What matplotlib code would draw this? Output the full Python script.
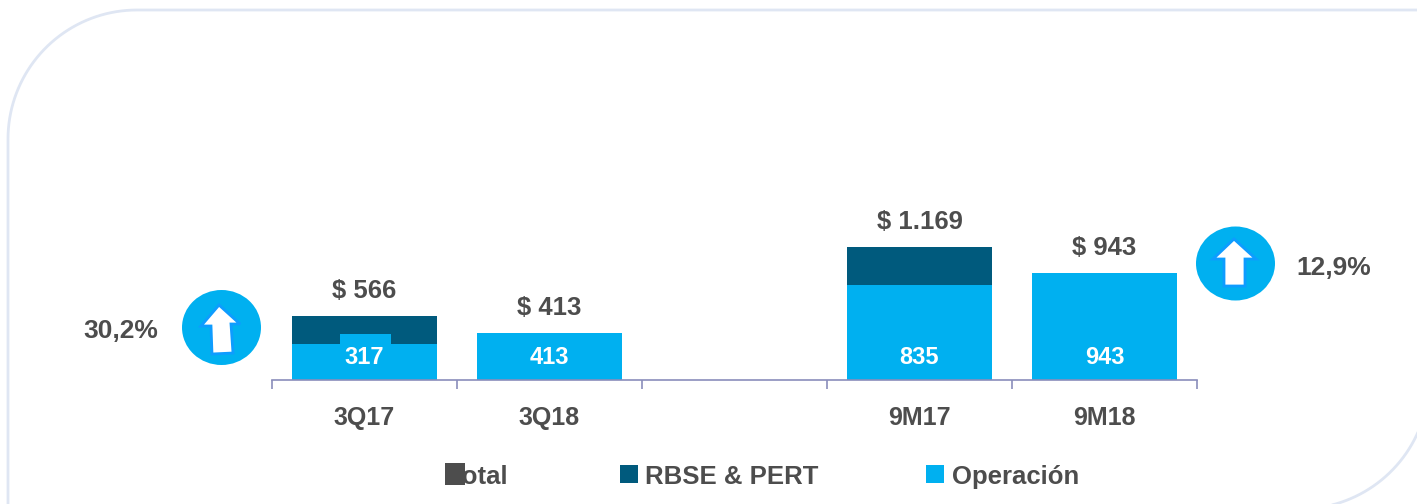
import numpy as np
import matplotlib
matplotlib.use('Agg')
import matplotlib.pyplot as plt
from matplotlib.patches import Rectangle, Ellipse, Polygon
from matplotlib.transforms import Affine2D

W, H = 1417, 504

categories = ['3Q17', '3Q18', '', '9M17', '9M18']
operacion = [317, 413, 0, 835, 943]
rbse_pert = [249, 0, 0, 334, 0]
total_labels = ['$ 566', '$ 413', '', '$ 1.169', '$ 943']
operacion_labels = ['317', '413', '', '835', '943']
totals = [566, 413, 0, 1169, 943]
legend_names = ['Total', 'RBSE & PERT', 'Operación']

BLUE = '#00B0F0'
NAVY = '#005A7D'
GREY = '#4D4D4D'
AXIS = '#8A8DBB'
FRAME = '#DFE6F3'

plt.rcParams['font.family'] = ['Liberation Sans', 'DejaVu Sans']
plt.rcParams['font.weight'] = 'bold'

fig = plt.figure(figsize=(W / 100, H / 100), dpi=100)
# everything decorative is placed in picture pixels, y going down
to_px = Affine2D().scale(1 / W, -1 / H).translate(0, 1) + fig.transFigure

# frame: only top left and bottom right are rounded, it runs off the picture
l, t, r, b, R = 8, 10, 1429, 509, 129
a1 = np.radians(np.linspace(180, 270, 40))
a2 = np.radians(np.linspace(0, 90, 40))
frame_pts = list(zip(l + R + R * np.cos(a1), t + R + R * np.sin(a1)))
frame_pts.append((r, t))
frame_pts += list(zip(r - R + R * np.cos(a2), b - R + R * np.sin(a2)))
frame_pts.append((l, b))
fig.add_artist(Polygon(frame_pts, closed=True, fc='none', ec=FRAME, lw=2.0, transform=to_px))

ax = fig.add_axes([272 / W, 1 - 380 / H, (1197 - 272) / W, 320 / H])
ax.patch.set_alpha(0)
x = range(len(categories))
ax.bar(x, operacion, width=0.78, color=BLUE)
ax.bar(x, rbse_pert, width=0.78, bottom=operacion, color=NAVY)
ax.set_xlim(-0.5, 4.5)
ax.set_ylim(0, 2819)
ax.set_yticks([])
for s in ['top', 'left', 'right']:
    ax.spines[s].set_visible(False)
ax.spines['bottom'].set_color(AXIS)
ax.spines['bottom'].set_linewidth(1.2)
ax.set_xticks([i - 0.5 for i in range(len(categories) + 1)])
ax.set_xticklabels([])
ax.tick_params(axis='x', which='major', length=6.5, width=1.2, color=AXIS)
ax.set_xticks(list(x), minor=True)
ax.set_xticklabels(categories, minor=True, fontsize=18, color=GREY, fontweight='bold')
ax.tick_params(axis='x', which='minor', length=0, pad=19)

# patch behind the 317 label
ax.add_patch(Rectangle((340, 334), 51, 14, fc=BLUE, ec='none', transform=to_px, zorder=4, clip_on=False))

for i in x:
    if not categories[i]:
        continue
    ax.annotate(total_labels[i], (i, totals[i]), xytext=(0, 18), textcoords='offset points',
                ha='center', va='center', fontsize=18.5, color=GREY, fontweight='bold')
    ax.annotate(operacion_labels[i], (i, 0), xytext=(0, 16.5), textcoords='offset points',
                ha='center', va='center', fontsize=17, color='white', fontweight='bold', zorder=10)
ax.set_zorder(5)

# growth badges
for (cx, cy, w, h) in [(221.5, 327.5, 79, 75), (1235.5, 263.5, 79, 74)]:
    fig.add_artist(Ellipse((cx, cy), w, h, fc=BLUE, ec='none', transform=to_px))
arrow_l = [(219, 305), (240, 324), (231, 324), (233, 353), (212, 354), (211, 326), (201, 326)]
arrow_r = [(1234, 239), (1256, 259), (1245, 259), (1245, 286), (1224, 286), (1224, 259), (1213, 259)]
for pts in [arrow_l, arrow_r]:
    fig.add_artist(Polygon(pts, closed=True, fc='white', ec='#0E9CFF', lw=2.0, transform=to_px))

fig.text(121 / W, 1 - 331 / H, '30,2%', ha='center', va='center', fontsize=19, color=GREY)
fig.text(1334 / W, 1 - 268 / H, '12,9%', ha='center', va='center', fontsize=19, color=GREY)

# legend
text_x = [449, 645, 952]
for name, tx in zip(legend_names, text_x):
    fig.text(tx / W, 1 - 477 / H, name, ha='left', va='center', fontsize=18.5, color=GREY)
fig.add_artist(Rectangle((445, 463), 20, 22, fc=GREY, ec='none', transform=to_px, zorder=5))
fig.add_artist(Rectangle((620, 465), 18, 18, fc=NAVY, ec='none', transform=to_px, zorder=5))
fig.add_artist(Rectangle((926, 465), 18, 18, fc=BLUE, ec='none', transform=to_px, zorder=5))

fig.savefig('out.png', dpi=100)
